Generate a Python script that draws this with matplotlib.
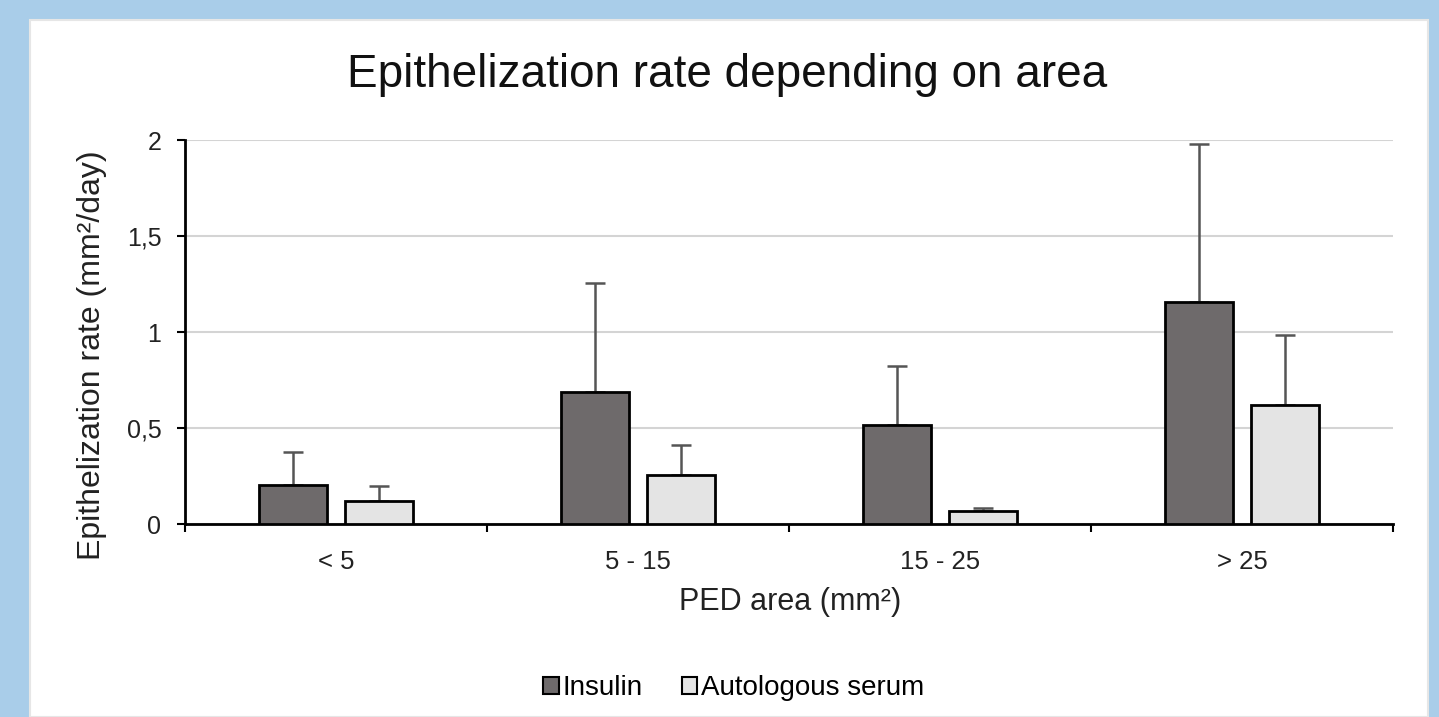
import matplotlib
matplotlib.use('Agg')
import matplotlib.pyplot as plt
from matplotlib.patches import Rectangle, Patch
import numpy as np

plt.rcParams['font.family'] = ['Liberation Sans', 'DejaVu Sans']

categories = ['< 5', '5 - 15', '15 - 25', '> 25']
insulin = [0.205, 0.69, 0.515, 1.155]
insulin_err = [0.17, 0.567, 0.31, 0.825]
serum = [0.12, 0.255, 0.07, 0.62]
serum_err = [0.08, 0.155, 0.012, 0.365]
yticks = [0, 0.5, 1, 1.5, 2]
ytick_labels = ['0', '0,5', '1', '1,5', '2']

W, H = 1439, 717
fig = plt.figure(figsize=(W / 100, H / 100), dpi=100, facecolor='#a9cde9')

# white panel behind everything
fig.patches.append(Rectangle((30 / W, 0), 1398 / W, 697 / H, transform=fig.transFigure,
                             facecolor='white', edgecolor='#e6e6e6', lw=1.5, zorder=-10))

ax = fig.add_axes([185 / W, 1 - 524 / H, 1208 / W, 384 / H])
ax.set_facecolor('none')

x = np.arange(len(categories))
w = 0.223
off = 0.142

ax.bar(x - off, insulin, w, color='#6e6a6b', edgecolor='black', linewidth=2, zorder=3)
ax.bar(x + off, serum, w, color='#e4e4e4', edgecolor='black', linewidth=2, zorder=3)
ax.errorbar(x - off, insulin, yerr=[[0] * 4, insulin_err], fmt='none', ecolor='#555555',
            elinewidth=1.8, capsize=7, capthick=1.8, zorder=2)
ax.errorbar(x + off, serum, yerr=[[0] * 4, serum_err], fmt='none', ecolor='#555555',
            elinewidth=1.8, capsize=7, capthick=1.8, zorder=2)

ax.set_xlim(-0.5, len(categories) - 0.5)
ax.set_ylim(0, 2)
ax.set_yticks(yticks)
ax.set_yticklabels(ytick_labels, fontsize=18, color='#222222')
ax.set_xticks(x)
ax.set_xticklabels(categories, fontsize=18.5, color='#222222')
ax.set_xticks(np.arange(len(categories) + 1) - 0.5, minor=True)
ax.tick_params(axis='x', which='major', length=0, pad=19)
ax.tick_params(axis='x', which='minor', length=6, width=1.5, direction='out')
ax.tick_params(axis='y', length=6, width=1.5, direction='out', pad=11)

ax.grid(axis='y', color='#d4d4d4', linewidth=1.5, zorder=0)
for s in ['top', 'right']:
    ax.spines[s].set_visible(False)
ax.spines['left'].set_linewidth(2)
ax.spines['bottom'].set_linewidth(2)

fig.text(727 / W, 1 - 75 / H, 'Epithelization rate depending on area', fontsize=33,
         ha='center', va='center', color='#111111')
fig.text(92 / W, 1 - 355 / H, 'Epithelization rate (mm²/day)', fontsize=23, rotation=90,
         ha='center', va='center', color='#222222')
fig.text(790 / W, 1 - 602 / H, 'PED area (mm²)', fontsize=22, ha='center', va='center',
         color='#222222')

handles = [Patch(facecolor='#6e6a6b', edgecolor='black', lw=1.5),
           Patch(facecolor='#e4e4e4', edgecolor='black', lw=1.5)]
fig.legend(handles, ['Insulin', 'Autologous serum'], loc='center', ncol=2,
           bbox_to_anchor=(734 / W, 1 - 688 / H), frameon=False, fontsize=20,
           handlelength=0.55, handleheight=0.55, handletextpad=0.15, columnspacing=1.4)

fig.savefig('out.png', dpi=100, facecolor=fig.get_facecolor())
